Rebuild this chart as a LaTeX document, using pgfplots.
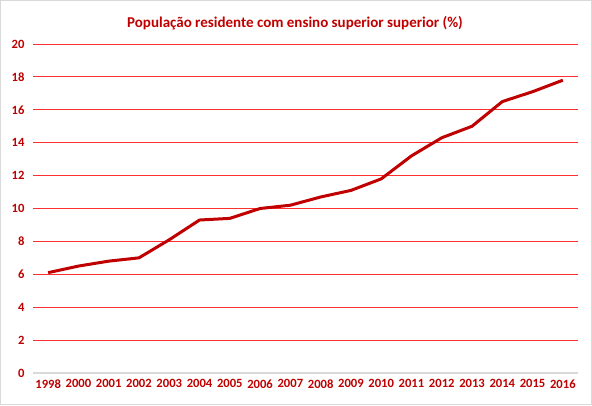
\documentclass[border=0pt]{standalone}
\usepackage{fontspec}
\setmainfont{Carlito}
\usepackage{pgfplots}
\pgfplotsset{compat=1.18}
\definecolor{dred}{HTML}{C00000}
\definecolor{txt}{HTML}{C00000}
\definecolor{gridred}{HTML}{FF3030}
\definecolor{bord}{HTML}{D9D9D9}
\begin{document}
\begin{tikzpicture}[x=1bp,y=1bp]
\draw[bord,line width=1bp,fill=white] (0.5,0.5) rectangle (591.5,404.5);
\node[anchor=base,text=txt,font=\fontsize{15bp}{17bp}\selectfont\bfseries] at (295,378) {População residente com ensino superior superior (\%)};
\begin{axis}[
  at={(33bp,32bp)}, anchor=south west,
  scale only axis, width=545bp, height=329bp,
  xmin=-0.5, xmax=17.5, ymin=0, ymax=20,
  xtick={0,...,17},
  xticklabels={1998,2000,2001,2002,2003,2004,2005,2006,2007,2008,2009,2010,2011,2012,2013,2014,2015,2016},
  ytick={0,2,...,20},
  axis line style={draw=none},
  tick style={draw=none},
  ymajorgrids, grid style={gridred,line width=0.8bp},
  ticklabel style={text=txt,font=\fontsize{12.6bp}{14bp}\selectfont\bfseries},
  /pgf/number format/assume math mode=true,
  xticklabel style={yshift=-3bp},
  yticklabel style={xshift=-5bp},
  clip=false,
]
\draw[bord,line width=1.2bp] (axis cs:-0.5,0) -- (axis cs:17.5,0);
\addplot[dred,line width=3bp] coordinates {
(0,6.1) (1,6.5) (2,6.8) (3,7.0) (4,8.1) (5,9.3) (6,9.4) (7,10.0) (8,10.2)
(9,10.7) (10,11.1) (11,11.8) (12,13.2) (13,14.3) (14,15.0) (15,16.5) (16,17.1) (17,17.8)
};
\end{axis}
\end{tikzpicture}
\end{document}
